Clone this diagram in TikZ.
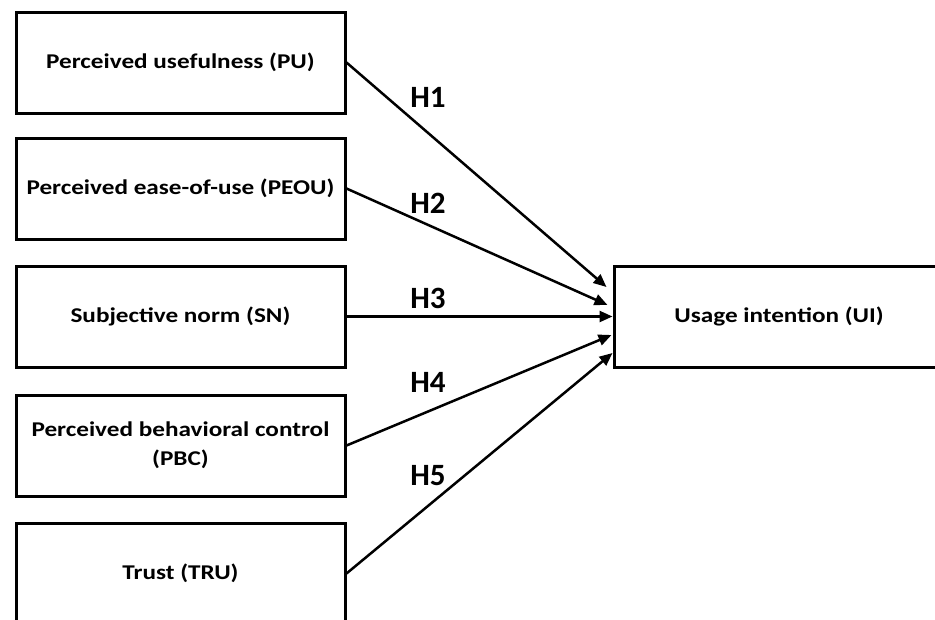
\documentclass[tikz,border=0pt]{standalone}
\usepackage{fontspec}
\setmainfont{Carlito}
\newfontfamily\boxfont{Carlito}[FakeStretch=1.2]
\usetikzlibrary{arrows.meta}
\begin{document}
\begin{tikzpicture}[x=1pt,y=-1pt,
  box/.style={draw=black, line width=3pt, minimum width=329pt, minimum height=101pt,
    inner sep=0pt, align=center, font=\boxfont\fontsize{21}{29}\selectfont\bfseries},
  hlab/.style={font=\fontsize{31}{36}\selectfont\bfseries, inner sep=0pt},
  conn/.style={line width=2.5pt, -{Triangle[length=13pt,width=11pt]}}]
\useasboundingbox (0,0) rectangle (935,619);
\begin{scope}
\clip (0,0) rectangle (935,619);
\node[box] (pu) at (180.5,62.5) {Perceived usefulness (PU)};
\node[box] (peou) at (180.5,188.5) {Perceived ease-of-use (PEOU)};
\node[box] (sn) at (180.5,316.5) {Subjective norm (SN)};
\node[box] (pbc) at (180.5,445.5) {Perceived behavioral control\\(PBC)};
\node[box] (tru) at (180.5,573.5) {Trust (TRU)};
\node[box, minimum width=330pt] (ui) at (779,316.5) {Usage intention (UI)};
\end{scope}
\draw[conn] (pu.east) -- ([xshift=-6pt,yshift=29.5pt]ui.west);
\draw[conn] (peou.east) -- ([xshift=-5pt,yshift=11.5pt]ui.west);
\draw[conn] (sn.east) -- (ui.west);
\draw[conn] (pbc.east) -- ([xshift=-1pt,yshift=-18.5pt]ui.west);
\draw[conn] (tru.east) -- ([yshift=-36.5pt]ui.west);
\node[hlab] (h1) at (428,97) {H1};
\node[hlab] (h2) at (428,203) {H2};
\node[hlab] (h3) at (428,298) {H3};
\node[hlab] (h4) at (428,382) {H4};
\node[hlab] (h5) at (428,476) {H5};
\end{tikzpicture}
\end{document}
